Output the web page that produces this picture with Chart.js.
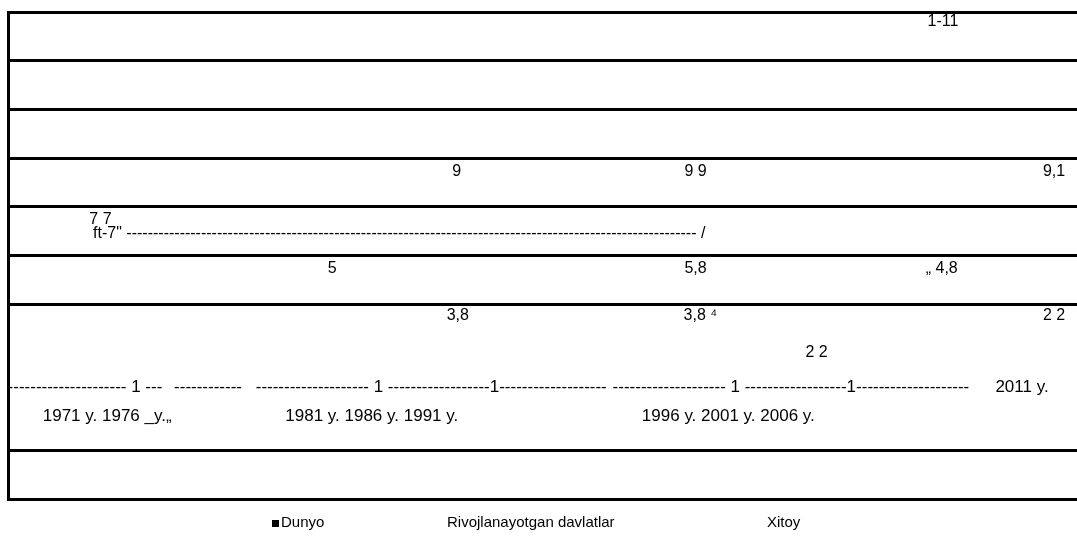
<!DOCTYPE html>
<html>
<head>
<meta charset="utf-8">
<script src="https://cdn.jsdelivr.net/npm/chart.js@4.4.1/dist/chart.umd.min.js"></script>
<style>
  html, body { margin: 0; padding: 0; background: #fff; }
</style>
</head>
<body>
<canvas id="chart" width="1077" height="536"></canvas>
<script>
// series names (legend)
const seriesNames = ["Dunyo", "Rivojlanayotgan davlatlar", "Xitoy"];

// label points: x = year, y = row level on the grid, text = printed label
const xitoyX = [1971.1, 1986.0, 1996.0, 2006.35, 2011.0];
const xitoyY = [5.74, 6.72, 6.72, 9.8, 6.72];
const xitoyText = ["7 7", "9", "9 9", "1-11", "9,1"];

const rivojX = [1980.8, 1996.0, 2006.3, 1983.6];
const rivojY = [4.73, 4.73, 4.73, 5.44];
const rivojText = ["5", "5,8", "\u201E 4,8",
  'ft-7" ----------------------------------------------------------------------------------------------------------- /'];

const dunyoX = [1986.05, 1996.2, 2001.06, 2011.0];
const dunyoY = [3.77, 3.77, 3.01, 3.77];
const dunyoText = ["3,8", "3,8 \u2074", "2 2", "2 2"];

// x axis text rows (tick line + year labels)
const axisX = [1970.45, 1975.6, 1984.94, 1999.99, 2009.66, 1971.38, 1982.45, 1997.37];
const axisY = [2.3, 2.3, 2.3, 2.3, 2.3, 1.7, 1.7, 1.7];
const axisText = [
  "--------------------- 1 ---",
  "------------",
  "-------------------- 1 ------------------1-------------------",
  "-------------------- 1 ------------------1--------------------",
  "2011 y.",
  "1971 y. 1976 _y.\u201E",
  "1981 y. 1986 y. 1991 y.",
  "1996 y. 2001 y. 2006 y."
];

const hiddenRows = [2, 3]; // grid rows with no line in the picture

const FONT = '"Liberation Sans", Arial, sans-serif';

function pts(xs, ys) {
  return xs.map((x, i) => ({ x: x, y: ys[i] }));
}

const textPlugin = {
  id: "pageText",
  afterDatasetsDraw(chart) {
    const ctx = chart.ctx;
    const { x, y } = chart.scales;
    ctx.save();
    ctx.fillStyle = "#000";
    ctx.textAlign = "center";
    ctx.textBaseline = "middle";

    // value labels at each dataset point
    ctx.font = "16px " + FONT;
    chart.data.datasets.forEach((ds, i) => {
      const meta = chart.getDatasetMeta(i);
      meta.data.forEach((el, j) => {
        ctx.fillText(ds.texts[j], el.x, el.y);
      });
    });

    // axis line text and year labels
    ctx.font = "17px " + FONT;
    axisText.forEach((t, i) => {
      ctx.fillText(t, x.getPixelForValue(axisX[i]), y.getPixelForValue(axisY[i]));
    });

    // legend under the frame
    ctx.font = "15px " + FONT;
    ctx.textAlign = "left";
    const legendY = 523;
    const legendX = [272, 447, 767];
    seriesNames.forEach((name, i) => {
      let lx = legendX[i];
      if (i === 0) {
        ctx.fillRect(lx, legendY - 3, 7, 7);
        lx += 9;
      }
      ctx.fillText(name, lx, legendY);
    });
    ctx.restore();
  }
};

new Chart(document.getElementById("chart"), {
  type: "scatter",
  data: {
    datasets: [
      { label: seriesNames[0], data: pts(dunyoX, dunyoY), texts: dunyoText },
      { label: seriesNames[1], data: pts(rivojX, rivojY), texts: rivojText },
      { label: seriesNames[2], data: pts(xitoyX, xitoyY), texts: xitoyText }
    ].map(d => Object.assign(d, { pointRadius: 0, pointHoverRadius: 0, showLine: false }))
  },
  options: {
    responsive: false,
    animation: false,
    events: [],
    layout: { padding: { top: 12, bottom: 37, left: 8, right: 0 } },
    plugins: {
      legend: { display: false },
      tooltip: { enabled: false }
    },
    scales: {
      x: {
        type: "linear",
        display: false,
        min: 1967.23,
        max: 2011.96
      },
      y: {
        min: 0,
        max: 10,
        ticks: { display: false, stepSize: 1 },
        border: { display: true, color: "#000", width: 3 },
        grid: {
          drawTicks: false,
          lineWidth: 3,
          color: c => hiddenRows.includes(c.tick && c.tick.value) ? "rgba(0,0,0,0)" : "#000"
        }
      }
    }
  },
  plugins: [textPlugin]
});
</script>
</body>
</html>
